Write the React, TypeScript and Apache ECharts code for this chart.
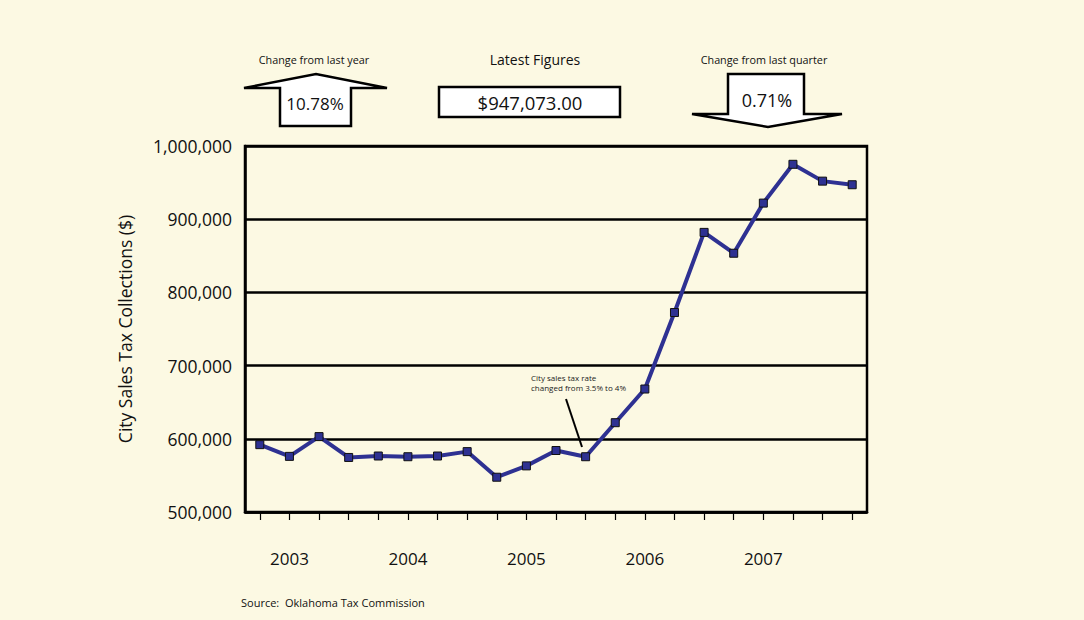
import React, { useEffect, useRef } from "react";
import * as echarts from "echarts";

const quarters = [
  "2002 Q4",
  "2003 Q1", "2003 Q2", "2003 Q3", "2003 Q4",
  "2004 Q1", "2004 Q2", "2004 Q3", "2004 Q4",
  "2005 Q1", "2005 Q2", "2005 Q3", "2005 Q4",
  "2006 Q1", "2006 Q2", "2006 Q3", "2006 Q4",
  "2007 Q1", "2007 Q2", "2007 Q3", "2007 Q4",
];
const collections = [
  592000, 576000, 603000, 574500, 576500, 575500, 576500, 582500,
  547500, 563000, 584000, 575500, 622000, 668000, 772500, 882000,
  853500, 922000, 975000, 952000, 947073,
];
const yTicks = [500000, 600000, 700000, 800000, 900000, 1000000];
const yearChange = "10.78%";
const quarterChange = "0.71%";
const latestFigure = "$947,073.00";

const FONT = "'Open Sans', 'Noto Sans', sans-serif";
const NARROW = "'Liberation Sans Narrow', 'Open Sans', sans-serif";
const BG = "#fcf9e3";
const BLUE = "#2e3192";

export default function App() {
  const ref = useRef<HTMLDivElement>(null);
  useEffect(() => {
    document.body.style.margin = "0";
    const chart = echarts.init(ref.current!, null, { renderer: "svg" });
    chart.setOption({
      animation: false,
      backgroundColor: BG,
      grid: {
        left: 245,
        right: 217,
        top: 146,
        bottom: 108,
        show: true,
        borderColor: "#000",
        borderWidth: 2.5,
        backgroundColor: "transparent",
      },
      xAxis: {
        type: "category",
        data: quarters,
        boundaryGap: true,
        axisLine: { show: true, lineStyle: { color: "#000", width: 2.5 } },
        axisTick: {
          show: true,
          alignWithLabel: true,
          interval: 0,
          length: 8,
          lineStyle: { color: "#000", width: 1.2 },
        },
        axisLabel: {
          interval: 0,
          margin: 38,
          fontSize: 17,
          color: "#111",
          fontFamily: FONT,
          formatter: (v: string) => (v.endsWith("Q1") ? v.slice(0, 4) : ""),
        },
        splitLine: { show: false },
      },
      yAxis: {
        type: "value",
        min: yTicks[0],
        max: yTicks[yTicks.length - 1],
        interval: 100000,
        name: "City Sales Tax Collections ($)",
        nameLocation: "middle",
        nameGap: 111,
        nameTextStyle: { fontSize: 17.5, color: "#111", fontFamily: FONT },
        axisLine: { show: true, lineStyle: { color: "#000", width: 2.5 } },
        axisTick: { show: false },
        axisLabel: {
          margin: 13,
          fontSize: 17.5,
          color: "#111",
          fontFamily: FONT,
          formatter: (v: number) => v.toLocaleString("en-US"),
        },
        splitLine: { show: true, lineStyle: { color: "#000", width: 2.5 } },
      },
      series: [
        {
          type: "line",
          data: collections,
          lineStyle: { color: BLUE, width: 4 },
          symbol: "rect",
          symbolSize: 8,
          itemStyle: { color: BLUE, borderColor: "#111", borderWidth: 1 },
          z: 5,
        },
      ],
      graphic: [
        {
          type: "text",
          x: 314,
          y: 59,
          style: {
            text: "Change from last year",
            fontSize: 10.8,
            fontFamily: NARROW,
            fill: "#111",
            align: "center",
            verticalAlign: "middle",
          },
        },
        {
          type: "polygon",
          shape: {
            points: [
              [280, 126], [280, 88], [244, 88], [316, 74],
              [387, 88], [351, 88], [351, 126],
            ],
          },
          style: { fill: "#fff", stroke: "#000", lineWidth: 2.5 },
        },
        {
          type: "text",
          x: 315,
          y: 103,
          style: {
            text: yearChange,
            fontSize: 17,
            fontFamily: FONT,
            fill: "#111",
            align: "center",
            verticalAlign: "middle",
          },
        },
        {
          type: "text",
          x: 535,
          y: 59,
          style: {
            text: "Latest Figures",
            fontSize: 14,
            fontFamily: FONT,
            fill: "#111",
            align: "center",
            verticalAlign: "middle",
          },
        },
        {
          type: "rect",
          shape: { x: 439, y: 87, width: 181, height: 30 },
          style: { fill: "#fff", stroke: "#000", lineWidth: 2.5 },
        },
        {
          type: "text",
          x: 530,
          y: 102,
          style: {
            text: latestFigure,
            fontSize: 18.5,
            fontFamily: FONT,
            fill: "#111",
            align: "center",
            verticalAlign: "middle",
          },
        },
        {
          type: "text",
          x: 764,
          y: 59,
          style: {
            text: "Change from last quarter",
            fontSize: 10.8,
            fontFamily: NARROW,
            fill: "#111",
            align: "center",
            verticalAlign: "middle",
          },
        },
        {
          type: "polygon",
          shape: {
            points: [
              [728, 74], [804, 74], [804, 114], [842, 114],
              [768, 127], [692, 114], [728, 114],
            ],
          },
          style: { fill: "#fff", stroke: "#000", lineWidth: 2.5 },
        },
        {
          type: "text",
          x: 767,
          y: 100,
          style: {
            text: quarterChange,
            fontSize: 18,
            fontFamily: FONT,
            fill: "#111",
            align: "center",
            verticalAlign: "middle",
          },
        },
        {
          type: "text",
          x: 531,
          y: 372,
          style: {
            text: "City sales tax rate\nchanged from 3.5% to 4%",
            fontSize: 8,
            lineHeight: 10,
            fontFamily: FONT,
            fill: "#222",
            align: "left",
            verticalAlign: "top",
          },
        },
        {
          type: "line",
          shape: { x1: 566, y1: 399, x2: 582, y2: 447 },
          style: { stroke: "#000", lineWidth: 2 },
          z: 10,
        },
        {
          type: "text",
          x: 241,
          y: 602,
          style: {
            text: "Source:  Oklahoma Tax Commission",
            fontSize: 11,
            fontFamily: FONT,
            fill: "#111",
            align: "left",
            verticalAlign: "middle",
          },
        },
      ],
    });
    return () => chart.dispose();
  }, []);
  return <div ref={ref} style={{ width: 1084, height: 620 }} />;
}
